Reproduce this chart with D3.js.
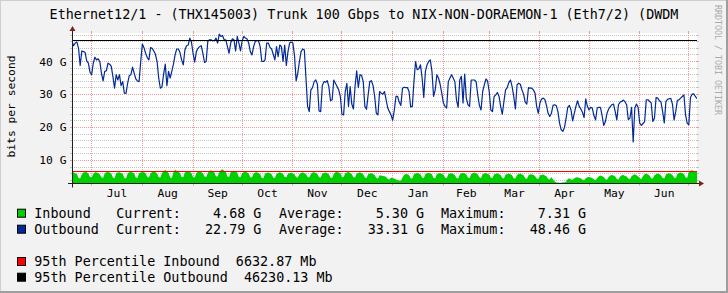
<!DOCTYPE html>
<html><head><meta charset="utf-8">
<script src="https://cdn.jsdelivr.net/npm/d3@7"></script>
<style>
html,body{margin:0;padding:0;background:#F2F2F2;}
svg{display:block;}
text{font-family:"DejaVu Sans Mono",monospace;white-space:pre;}
</style>
</head><body>
<svg id="c" width="728" height="293"></svg>
<script>
// ---------- data ----------
const titleText = "Ethernet12/1 - (THX145003) Trunk 100 Gbps to NIX-NON-DORAEMON-1 (Eth7/2) (DWDM";
const yAxisTitle = "bits per second";
const watermark = "RRDTOOL / TOBI OETIKER";
const startDate = "2018-06-19";   // first daily sample
const endDate = "2019-07-06";     // last daily sample
const yDomain = [3.0, 48.65];     // G
const yMajorTicks = [10, 20, 30, 40];
const yTickLabels = ["10 G", "20 G", "30 G", "40 G"];
const yMinorTicks = [4,6,8,12,14,16,18,22,24,26,28,32,34,36,38,42,44,46,48];

// Outbound, G, one value per day
const outbound = [
46.1,44.8,45.6,45.9,44.0,38.8,43.2,43.0,42.8,40.2,
39.5,36.8,36.0,39.5,41.3,40.5,40.8,40.0,36.5,34.1,
37.0,37.2,39.5,39.2,38.5,35.5,31.9,36.0,34.4,36.0,
32.7,33.9,30.4,30.3,33.4,35.7,36.0,38.3,36.5,34.7,
34.1,33.9,40.0,45.3,44.2,42.5,41.2,40.5,44.2,44.0,
43.2,42.2,40.0,35.0,31.9,32.3,36.2,39.2,32.7,37.0,
35.0,37.0,39.2,42.0,43.8,43.8,42.7,40.5,39.0,43.5,
44.8,45.0,47.1,45.9,42.5,39.8,43.0,44.0,44.5,44.8,
42.5,39.7,40.0,46.1,46.6,46.6,46.3,46.3,47.1,45.6,
48.3,47.6,47.9,46.6,46.6,44.5,42.5,45.6,46.9,46.6,
43.2,47.6,45.6,43.2,46.3,47.6,47.1,46.8,45.6,43.0,
42.0,44.5,46.1,46.3,46.3,44.5,40.0,40.0,40.5,45.6,
45.6,44.3,43.8,42.2,40.5,44.5,41.5,45.0,44.5,40.0,
45.0,38.8,43.0,45.6,45.9,45.6,41.8,34.1,36.5,40.0,
43.0,43.8,43.5,35.0,26.4,24.8,31.4,32.1,33.9,34.4,
33.1,25.0,24.8,32.7,33.9,33.7,34.2,32.4,28.1,28.4,
34.4,33.4,32.4,31.4,29.4,24.0,23.8,30.9,33.4,26.4,
32.4,27.1,25.6,32.4,37.2,32.1,36.0,35.8,33.9,26.4,
25.5,29.9,33.9,34.2,32.7,29.4,24.3,23.8,30.9,30.4,
30.1,30.9,28.4,25.9,24.8,23.8,22.2,25.3,29.4,29.4,
27.7,26.7,31.9,32.2,32.1,32.1,30.9,26.2,26.4,33.9,
40.0,37.5,37.8,39.0,35.0,29.1,37.0,39.0,40.0,40.5,
37.0,29.4,31.4,36.0,35.0,33.1,30.4,27.4,26.4,25.9,
33.9,35.0,36.0,35.0,33.9,28.4,26.1,34.4,35.5,27.4,
36.2,28.9,26.9,26.4,34.4,34.4,34.4,33.9,29.9,26.7,
25.3,30.9,32.9,34.7,34.1,30.9,25.3,24.8,29.4,29.9,
30.6,29.4,26.4,24.0,27.9,31.4,32.1,33.6,34.4,32.4,
29.4,25.6,32.9,33.4,33.1,31.4,30.1,27.7,27.1,32.1,
31.9,31.9,31.4,30.4,26.4,24.3,27.4,28.6,28.9,28.5,
26.7,24.3,23.3,24.3,26.7,26.9,26.6,24.8,21.3,19.3,
18.8,20.0,22.8,26.1,26.7,25.3,22.0,24.3,26.4,28.1,
26.4,25.6,24.6,23.0,28.7,26.4,25.3,26.1,25.9,23.6,
22.3,25.9,26.1,26.1,23.6,20.6,21.8,24.3,25.6,26.3,
26.9,27.1,24.8,22.3,26.9,27.7,27.9,28.3,27.8,26.9,
22.4,22.8,26.1,15.6,25.9,27.1,26.1,21.3,20.6,21.2,
21.8,28.4,28.4,27.9,27.5,21.8,22.8,29.1,28.9,28.1,
27.7,24.8,21.4,27.9,28.5,28.7,28.8,27.1,22.3,24.8,
28.2,28.4,28.9,29.4,29.9,23.8,21.3,20.8,29.1,30.1,
30.2,29.4,28.7
];

// Inbound, G, one value per day
const inbound = [
6.2,6.4,6.1,5.9,4.7,4.5,5.8,
6.3,6.5,6.4,6.0,5.0,4.8,5.9,
6.4,6.3,6.2,5.8,4.9,4.7,6.0,
6.4,6.5,6.3,6.0,4.8,4.6,6.1,
6.3,6.4,6.2,5.9,4.7,4.5,6.0,
6.4,6.5,6.3,6.0,4.8,4.7,6.1,
6.3,6.5,6.4,6.1,5.0,4.8,6.0,
6.5,6.6,6.4,6.0,4.9,4.8,6.2,
6.8,7.1,6.7,6.2,4.8,4.7,6.3,
7.2,6.9,6.6,6.2,5.0,4.9,6.3,
6.6,6.8,6.5,6.2,4.9,4.8,6.2,
6.5,6.7,6.4,6.1,5.1,5.0,6.2,
6.8,7.0,6.7,6.3,5.2,5.1,6.4,
7.1,7.3,6.9,6.5,5.1,5.0,6.4,
6.7,6.9,6.6,6.3,5.0,4.9,6.2,
6.4,6.6,6.3,6.0,4.9,4.8,6.0,
6.3,6.4,6.2,5.9,4.7,4.6,6.0,
6.2,6.3,6.1,5.8,4.8,4.7,5.9,
6.2,6.4,6.2,5.9,5.0,4.9,6.0,
6.1,6.3,6.0,5.8,4.9,4.8,5.8,
6.2,6.4,6.1,5.9,5.0,4.8,5.9,
6.3,6.4,6.2,5.9,4.9,4.8,6.0,
6.2,6.3,6.1,5.8,4.8,4.7,5.9,
6.4,6.5,6.3,6.0,5.0,4.9,6.1,
6.3,6.5,6.2,5.9,4.9,4.8,6.0,
6.2,6.4,6.1,5.8,4.8,4.7,5.8,
6.0,6.1,5.9,5.6,4.7,4.5,5.5,
5.4,5.3,5.2,5.0,4.4,4.2,4.8,
4.6,4.5,4.2,4.0,3.9,3.8,4.8,
5.6,5.9,5.8,5.6,4.6,4.5,5.8,
6.0,6.2,6.0,5.8,4.8,4.6,5.9,
6.1,6.2,6.0,5.8,4.7,4.6,5.9,
6.0,6.2,5.9,5.7,4.8,4.6,5.8,
6.0,6.1,5.9,5.6,4.7,4.5,5.7,
6.1,6.2,6.0,5.7,4.8,4.6,5.9,
6.1,6.3,6.0,5.8,4.9,4.7,5.9,
6.0,6.2,5.9,5.7,4.8,4.6,5.8,
5.9,6.1,5.8,5.6,4.7,4.5,5.7,
5.8,6.0,5.8,5.5,4.6,4.5,5.6,
5.9,6.0,5.7,5.5,4.6,4.4,5.5,
5.7,5.8,5.6,5.3,4.5,4.4,5.4,
5.6,5.7,5.4,5.2,4.4,4.2,5.0,
4.2,3.6,3.3,3.3,3.2,3.2,3.4,
3.3,3.5,4.4,4.6,4.2,4.1,4.6,
4.8,4.9,4.7,4.6,4.1,4.0,4.6,
4.9,5.0,4.8,4.7,4.2,4.0,4.7,
5.2,5.4,5.2,5.0,4.3,4.1,5.0,
5.4,5.6,5.4,5.1,4.4,4.2,5.1,
5.5,5.6,5.3,5.1,4.5,4.3,5.2,
5.6,5.8,5.5,5.2,4.6,4.4,5.3,
5.8,6.0,5.7,5.4,4.6,4.5,5.5,
5.8,6.0,5.8,5.5,4.7,4.5,5.7,
6.0,6.1,5.9,5.6,4.8,4.6,5.8,
6.2,6.3,6.1,5.9,4.9,4.7,6.6,
6.9,7.0,6.8,6.7,6.5
];

const pct95Inbound = 6.63287;   // G
const pct95Outbound = 46.23013; // G

const seriesNames = ["Inbound", "Outbound"];
const seriesColors = ["#00CF00", "#002A97"];
const currentVals = ["4.68", "22.79"];
const averageVals = ["5.30", "33.31"];
const maximumVals = ["7.31", "48.46"];
const pctNames = ["95th Percentile Inbound", "95th Percentile Outbound"];
const pctVals = ["6632.87", "46230.13"];
const pctColors = ["#FF0000", "#000000"];

// ---------- drawing ----------
const W = 728, H = 293;
const L = 72, R = 697, T = 33, B = 183.5;
const svg = d3.select("#c");

const t0 = new Date(startDate + "T00:00:00Z");
const t1 = new Date(endDate + "T00:00:00Z");
const x = d3.scaleUtc().domain([t0, t1]).range([L, R]);
const y = d3.scaleLinear().domain(yDomain).range([B, T]);

const outData = outbound.map((v, i) => ({t: d3.utcDay.offset(t0, i), v}));
const inData = inbound.map((v, i) => ({t: d3.utcDay.offset(t0, i), v}));

// background & frame
svg.append("rect").attr("width", W).attr("height", H).attr("fill", "#F2F2F2");
svg.append("rect").attr("x", 0).attr("y", 0).attr("width", W).attr("height", 1).attr("fill", "#CFCFCF");
svg.append("rect").attr("x", 0).attr("y", 0).attr("width", 1).attr("height", H).attr("fill", "#CFCFCF");
svg.append("rect").attr("x", W - 2).attr("y", 0).attr("width", 2).attr("height", H).attr("fill", "#9E9E9E");
svg.append("rect").attr("x", 0).attr("y", H - 2).attr("width", W).attr("height", 2).attr("fill", "#9E9E9E");

// canvas
svg.append("rect").attr("x", L).attr("y", T).attr("width", R - L).attr("height", B - T).attr("fill", "#FFFFFF");

const px = v => Math.floor(v) + 0.5;
const gridG = svg.append("g");
const minorCol = "#C4C4C4", majorCol = "#EC9A9A";

// minor horizontal grid
yMinorTicks.forEach(v => {
  const yy = px(y(v));
  gridG.append("line").attr("x1", L).attr("x2", R).attr("y1", yy).attr("y2", yy)
    .attr("stroke", minorCol).attr("stroke-dasharray", "1,1");
  gridG.append("line").attr("x1", L - 2).attr("x2", L).attr("y1", yy).attr("y2", yy).attr("stroke", minorCol);
  gridG.append("line").attr("x1", R).attr("x2", R + 2).attr("y1", yy).attr("y2", yy).attr("stroke", minorCol);
});
// major horizontal grid
yMajorTicks.forEach(v => {
  const yy = px(y(v));
  gridG.append("line").attr("x1", L).attr("x2", R).attr("y1", yy).attr("y2", yy)
    .attr("stroke", majorCol).attr("stroke-dasharray", "1,1");
  gridG.append("line").attr("x1", L - 2).attr("x2", L).attr("y1", yy).attr("y2", yy).attr("stroke", majorCol);
  gridG.append("line").attr("x1", R).attr("x2", R + 2).attr("y1", yy).attr("y2", yy).attr("stroke", majorCol);
});
// vertical month grid
const months = d3.utcMonth.range(t0, t1);
months.forEach(m => {
  const xx = px(x(m));
  gridG.append("line").attr("x1", xx).attr("x2", xx).attr("y1", T).attr("y2", B)
    .attr("stroke", majorCol).attr("stroke-dasharray", "1,1");
  gridG.append("line").attr("x1", xx).attr("x2", xx).attr("y1", B).attr("y2", B + 2).attr("stroke", majorCol);
  gridG.append("line").attr("x1", xx).attr("x2", xx).attr("y1", T - 2).attr("y2", T).attr("stroke", majorCol);
});

// clip
svg.append("clipPath").attr("id", "plotclip").append("rect")
  .attr("x", L).attr("y", T).attr("width", R - L).attr("height", B - T);
const plot = svg.append("g").attr("clip-path", "url(#plotclip)");

// inbound area
plot.append("path").datum(inData)
  .attr("d", d3.area().x(d => x(d.t)).y0(B).y1(d => y(d.v)))
  .attr("fill", seriesColors[0]);
// outbound line
plot.append("path").datum(outData)
  .attr("d", d3.line().x(d => x(d.t)).y(d => y(d.v)))
  .attr("fill", "none").attr("stroke", seriesColors[1]).attr("stroke-width", 1.2)
  .attr("stroke-linejoin", "round");
// 95th percentile rules
[pct95Inbound, pct95Outbound].forEach((v, i) => {
  const yy = px(y(v));
  svg.append("line").attr("x1", L).attr("x2", R).attr("y1", yy).attr("y2", yy)
    .attr("stroke", pctColors[i]).attr("stroke-width", 1);
});

// axes
const axisCol = "#1F1F1F", arrowCol = "#801F1F";
svg.append("line").attr("x1", L - 4).attr("x2", R + 4).attr("y1", B).attr("y2", B).attr("stroke", axisCol);
svg.append("line").attr("x1", L + 0.5).attr("x2", L + 0.5).attr("y1", B + 4).attr("y2", T - 4).attr("stroke", axisCol);
svg.append("path").attr("d", `M${R + 2},${B - 3}L${R + 2},${B + 3}L${R + 7},${B}Z`).attr("fill", arrowCol);
svg.append("path").attr("d", `M${L + 0.5 - 3},${T - 2}L${L + 0.5 + 3},${T - 2}L${L + 0.5},${T - 7}Z`).attr("fill", arrowCol);

// y tick labels
yMajorTicks.forEach((v, i) => {
  svg.append("text").attr("x", 66.5).attr("y", y(v) + 4).attr("text-anchor", "end")
    .attr("font-size", "11.3px").attr("fill", "#000").text(yTickLabels[i]);
});
// month labels (centred in month)
const fmt = d3.utcFormat("%b");
d3.utcMonth.range(d3.utcMonth.floor(t0), t1).forEach(m => {
  const mid = new Date((m.getTime() + d3.utcMonth.offset(m, 1).getTime()) / 2);
  if (mid < t0 || mid > t1) return;
  svg.append("text").attr("x", x(mid)).attr("y", 197).attr("text-anchor", "middle")
    .attr("font-size", "11.3px").attr("fill", "#000").text(fmt(m));
});

// y axis title
svg.append("text").attr("transform", "translate(14.5,106.5) rotate(-90)")
  .attr("text-anchor", "middle").attr("font-size", "11.3px").attr("fill", "#000").text(yAxisTitle);

// title
svg.append("text").attr("x", 364).attr("y", 19).attr("text-anchor", "middle")
  .attr("font-size", "13.4px").attr("fill", "#000").text(titleText);

// watermark
svg.append("text").attr("transform", "translate(715,5) rotate(90)")
  .attr("font-size", "8.3px").attr("fill", "#ABABAB").text(watermark);

// legend
const rowsY = [217.7, 233.7];
const fmtVal = (lab, v, u) => lab + v.padStart(8, " ") + " " + u;
seriesNames.forEach((n, i) => {
  const yb = rowsY[i];
  svg.append("rect").attr("x", 17.5).attr("y", yb - 8.5).attr("width", 8).attr("height", 8)
    .attr("fill", seriesColors[i]).attr("stroke", "#000").attr("stroke-width", 1);
  const g = svg.append("g").attr("font-size", "13.4px").attr("fill", "#000");
  g.append("text").attr("x", 34.3).attr("y", yb).text(n);
  g.append("text").attr("x", 116.3).attr("y", yb).text(fmtVal("Current:", currentVals[i], "G"));
  g.append("text").attr("x", 279).attr("y", yb).text(fmtVal("Average:", averageVals[i], "G"));
  g.append("text").attr("x", 441).attr("y", yb).text(fmtVal("Maximum:", maximumVals[i], "G"));
});
const pctRowsY = [266, 281.7];
pctNames.forEach((n, i) => {
  const yb = pctRowsY[i];
  svg.append("rect").attr("x", 17.5).attr("y", yb - 8.5).attr("width", 8).attr("height", 8)
    .attr("fill", pctColors[i]).attr("stroke", "#000").attr("stroke-width", 1);
  svg.append("text").attr("x", 34.3).attr("y", yb).attr("font-size", "13.4px").attr("fill", "#000")
    .text(n + "  " + pctVals[i] + " Mb");
});
</script>
</body></html>
